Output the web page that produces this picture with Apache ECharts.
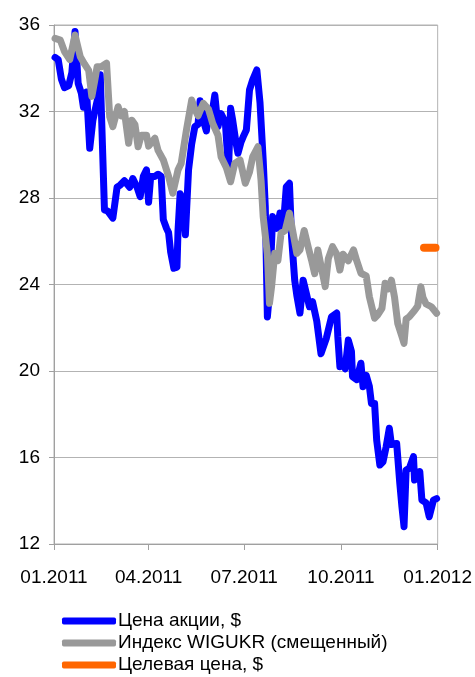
<!DOCTYPE html>
<html>
<head>
<meta charset="utf-8">
<script src="https://cdn.jsdelivr.net/npm/echarts@6/dist/echarts.min.js"></script>
<style>html,body{margin:0;padding:0;background:#fff;}#c{width:475px;height:677px;}</style>
</head>
<body>
<div id="c"></div>
<script>
// Day of year 2011 (0 = 1 Jan 2011) for each reading
const priceDays = [1,4,7,10,14,17,20,23,26,28,31,34,37,42,44,48,51,56,60,63,67,72,75,79,82,85,88,90,92,96,99,102,104,107,109,111,114,117,118,120,122,125,128,131,134,137,139,142,145,147,150,153,156,159,163,166,168,170,173,175,178,180,183,186,189,193,196,199,201,203,205,208,212,215,218,221,224,226,229,231,234,237,240,243,246,250,254,259,264,269,270,272,275,277,280,283,284,288,292,294,297,300,302,305,307,310,313,316,319,321,326,329,331,333,335,338,342,343,346,348,350,354,357,361,364];
const priceValues = [34.5,34.4,33.5,33.1,33.2,33.8,35.7,33.3,32.85,32.2,32.9,30.3,31.6,32.7,33.7,27.45,27.4,27.07,28.5,28.6,28.8,28.5,28.9,28.5,28.06,29.0,29.3,27.8,29.0,29.0,29.1,29.0,27.0,26.6,26.4,25.5,24.75,24.8,26.5,28.2,28.0,26.3,29.3,30.5,31.3,31.4,32.5,31.6,31.1,32.0,31.8,32.76,31.3,31.9,31.5,29.3,32.15,31.6,30.6,30.07,30.6,30.83,31.14,33.0,33.46,33.92,32.4,29.76,27.6,22.5,23.6,27.14,26.6,27.3,26.6,28.52,28.68,26.2,24.2,23.5,22.68,24.2,23.6,22.97,23.2,22.3,20.8,21.5,22.5,22.68,21.6,20.2,20.3,20.1,21.43,20.9,19.74,19.6,20.36,19.27,19.8,19.3,18.5,18.5,16.8,15.65,15.8,16.5,17.35,16.6,16.65,14.8,13.73,12.8,15.42,15.5,16.04,14.96,15.1,15.35,14.03,13.9,13.26,14.03,14.1];

const indexDays = [1,6,10,15,20,25,29,33,36,39,41,45,50,53,56,61,64,67,71,74,77,80,83,88,90,96,99,104,109,113,118,121,126,131,134,137,142,147,151,156,159,164,168,172,177,182,186,189,194,197,199,203,205,207,210,213,216,220,224,227,231,234,238,242,245,248,251,258,261,265,269,272,275,280,285,288,292,297,300,305,308,312,315,318,321,324,327,331,333,335,338,343,346,349,351,354,359,364];
const indexValues = [35.38,35.3,34.77,34.4,35.54,34.53,34.2,33.9,32.7,33.5,34.07,34.07,34.23,31.76,31.3,32.22,31.8,32.0,30.53,31.6,31.4,30.37,30.9,30.9,30.4,30.76,30.2,29.76,29.0,28.22,29.3,29.6,31.14,32.53,32.1,31.8,32.38,32.1,31.45,30.9,29.9,29.4,28.75,29.6,29.76,28.68,29.2,29.9,30.37,28.8,27.14,25.4,23.13,23.9,25.44,25.1,26.37,26.5,27.3,26.5,25.44,25.6,26.5,25.7,25.13,24.5,25.6,23.9,25.2,25.75,25.4,24.67,25.4,25.1,25.6,25.1,24.52,24.4,23.44,22.44,22.6,22.9,24.06,23.8,24.2,23.4,22.2,21.6,21.28,22.4,22.51,22.8,23.0,23.9,23.4,23.1,22.97,22.67];

const targetDays = [352,363];
const targetValues = [25.7,25.7];

const seriesNames = ['Цена акции, $','Индекс WIGUKR (смещенный)','Целевая цена, $'];
const tickDays = [0,90,181,273,365];
const tickLabels = ['01.2011','04.2011','07.2011','10.2011','01.2012'];
const yTicks = [12,16,20,24,28,32,36];

const pair = (days, vals) => days.map((d,i)=>[d, vals[i]]);

const font = 'Liberation Sans, Arial, sans-serif';
const chart = echarts.init(document.getElementById('c'), null, {renderer:'canvas'});
chart.setOption({
  animation:false,
  backgroundColor:'#fff',
  grid:{left:54,right:37,top:25,bottom:133,show:true,borderColor:'#b3b3b3',borderWidth:1},
  xAxis:{
    type:'value', min:tickDays[0], max:tickDays[tickDays.length-1],
    axisLine:{show:true,lineStyle:{color:'#a0a0a0',width:1}},
    axisTick:{show:true,customValues:tickDays,length:6,lineStyle:{color:'#a0a0a0'}},
    axisLabel:{customValues:tickDays,margin:24,fontSize:19,color:'#000',fontFamily:font,
      formatter:v=>tickLabels[tickDays.indexOf(v)]},
    splitLine:{show:false}
  },
  yAxis:{
    type:'value', min:yTicks[0], max:yTicks[yTicks.length-1], interval:4,
    axisLine:{show:true,lineStyle:{color:'#a0a0a0',width:1}},
    axisTick:{show:true,length:5,lineStyle:{color:'#a0a0a0'}},
    axisLabel:{margin:14,fontSize:19,color:'#000',fontFamily:font},
    splitLine:{show:true,lineStyle:{color:'#b3b3b3',width:1}}
  },
  legend:{
    orient:'vertical', left:62, top:610, height:80, padding:0, itemGap:0, itemWidth:54, itemHeight:7,
    icon:'roundRect',
    textStyle:{fontSize:19,color:'#000',fontFamily:font,lineHeight:22,padding:[0,0,0,-3]},
    data:seriesNames
  },
  series:[
    {name:seriesNames[0],type:'line',data:pair(priceDays,priceValues),showSymbol:false,
     lineStyle:{color:'#0000ff',width:7,cap:'round',join:'round'},itemStyle:{color:'#0000ff'}},
    {name:seriesNames[1],type:'line',data:pair(indexDays,indexValues),showSymbol:false,
     lineStyle:{color:'#999999',width:7,cap:'round',join:'round'},itemStyle:{color:'#999999'}},
    {name:seriesNames[2],type:'line',data:pair(targetDays,targetValues),showSymbol:false,
     lineStyle:{color:'#ff6600',width:8,cap:'round',join:'round'},itemStyle:{color:'#ff6600'}}
  ]
});
</script>
</body>
</html>
